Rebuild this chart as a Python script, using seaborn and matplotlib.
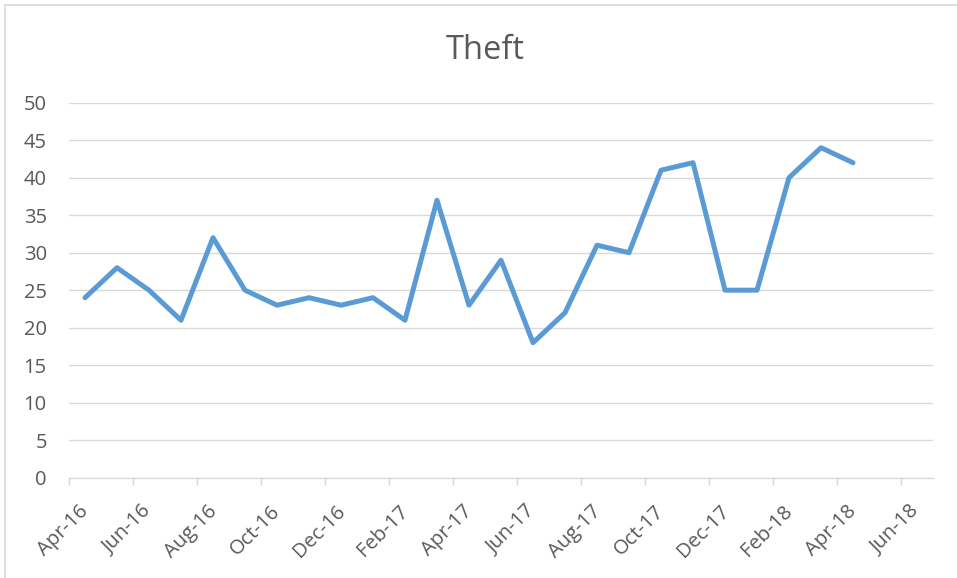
import matplotlib
matplotlib.use("Agg")
import matplotlib.pyplot as plt
from matplotlib.transforms import ScaledTranslation
from matplotlib.lines import Line2D
import seaborn as sns
import pandas as pd

# Monthly theft counts
months = ["Apr-16", "May-16", "Jun-16", "Jul-16", "Aug-16", "Sep-16", "Oct-16",
          "Nov-16", "Dec-16", "Jan-17", "Feb-17", "Mar-17", "Apr-17", "May-17",
          "Jun-17", "Jul-17", "Aug-17", "Sep-17", "Oct-17", "Nov-17", "Dec-17",
          "Jan-18", "Feb-18", "Mar-18", "Apr-18"]
theft = [24, 28, 25, 21, 32, 25, 23, 24, 23, 24, 21, 37, 23, 29, 18, 22,
         31, 30, 41, 42, 25, 25, 40, 44, 42]

# Axis tick labels (every second month)
tick_labels = ["Apr-16", "Jun-16", "Aug-16", "Oct-16", "Dec-16", "Feb-17",
               "Apr-17", "Jun-17", "Aug-17", "Oct-17", "Dec-17", "Feb-18",
               "Apr-18", "Jun-18"]
y_ticks = [0, 5, 10, 15, 20, 25, 30, 35, 40, 45, 50]

TEXT = "#595959"
GRID = "#D9D9D9"
LINE = "#5B9BD5"

sns.set_style("white")
plt.rcParams["font.family"] = ["Open Sans", "DejaVu Sans"]

# Month-band positions: each month occupies one unit, points sit mid-band
start = pd.to_datetime(months[0], format="%b-%y")
dates = pd.to_datetime(months, format="%b-%y")
pos = [(d.year - start.year) * 12 + (d.month - start.month) + 0.5 for d in dates]
tick_dates = pd.to_datetime(tick_labels, format="%b-%y")
tick_pos = [(d.year - start.year) * 12 + (d.month - start.month) for d in tick_dates]

df = pd.DataFrame({"pos": pos, "theft": theft})

fig = plt.figure(figsize=(9.57, 5.78), dpi=100)
ax = fig.add_axes([69 / 957, 1 - 477.7 / 578, (933 - 69) / 957, (477.7 - 102.7) / 578])

sns.lineplot(data=df, x="pos", y="theft", ax=ax, color=LINE, linewidth=3.6,
             solid_capstyle="round", solid_joinstyle="round", zorder=3)

# Axis runs to the end of the last labelled month band
ax.set_xlim(0, tick_pos[-1] + 1)
ax.set_ylim(0, 50)
ax.set_yticks(y_ticks)
ax.set_xticks(tick_pos)
ax.set_xticklabels(tick_labels)
ax.set_xlabel("")
ax.set_ylabel("")

ax.grid(axis="y", color=GRID, linewidth=1.0, zorder=0)
ax.grid(axis="x", visible=False)
for side in ["left", "right", "top"]:
    ax.spines[side].set_visible(False)
ax.spines["bottom"].set_color(GRID)
ax.spines["bottom"].set_linewidth(1.0)

ax.tick_params(axis="y", length=0, pad=16, labelsize=14.5, labelcolor=TEXT)
ax.tick_params(axis="x", direction="out", length=5, width=1.0, color=GRID,
               pad=12, labelsize=14.5, labelcolor=TEXT, bottom=True)

shift = ScaledTranslation(-6 / 100, 0, fig.dpi_scale_trans)
for lab in ax.get_xticklabels():
    lab.set_rotation(45)
    lab.set_ha("center")
    lab.set_va("top")
    lab.set_transform(lab.get_transform() + shift)

fig.text(485 / 957, 1 - 59 / 578, "Theft", ha="center", va="baseline",
         fontsize=23.5, color=TEXT)

# Chart frame edges
fig.add_artist(Line2D([4.5 / 957, 4.5 / 957], [0, 1 - 4.5 / 578],
                      transform=fig.transFigure, color=GRID, linewidth=1.2))
fig.add_artist(Line2D([4.5 / 957, 1], [1 - 4.5 / 578, 1 - 4.5 / 578],
                      transform=fig.transFigure, color=GRID, linewidth=1.2))

fig.savefig("out.png", dpi=100, facecolor="white")
